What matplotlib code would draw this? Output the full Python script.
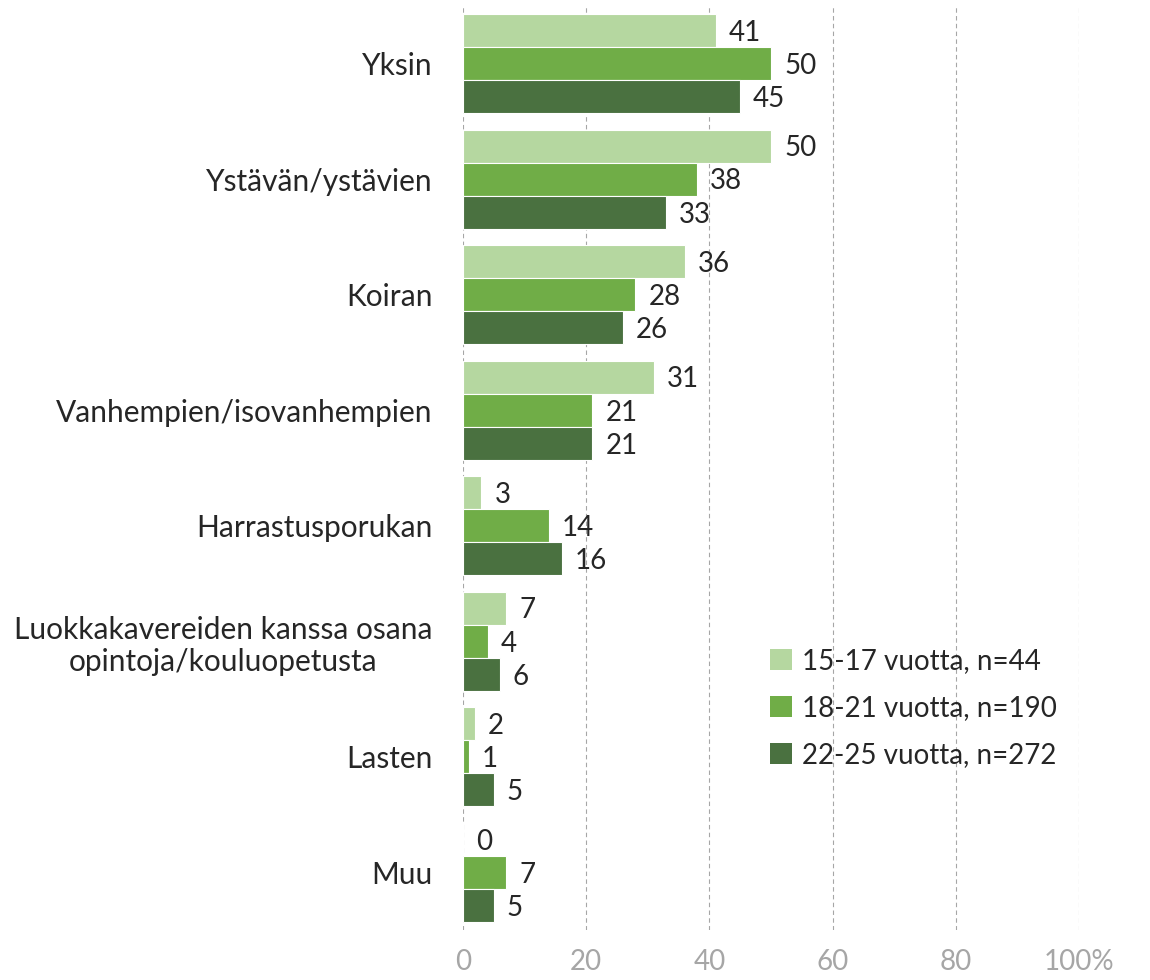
import numpy as np
import matplotlib.pyplot as plt

categories = [
    "Yksin",
    "Ystävän/ystävien",
    "Koiran",
    "Vanhempien/isovanhempien",
    "Harrastusporukan",
    "Luokkakavereiden kanssa osana\nopintoja/kouluopetusta",
    "Lasten",
    "Muu",
]
series_names = ["15-17 vuotta, n=44", "18-21 vuotta, n=190", "22-25 vuotta, n=272"]
age_15_17 = [41, 50, 36, 31, 3, 7, 2, 0]
age_18_21 = [50, 38, 28, 21, 14, 4, 1, 7]
age_22_25 = [45, 33, 26, 21, 16, 6, 5, 5]
colors = ["#b5d7a0", "#70ad47", "#4a7140"]

plt.rcParams["font.family"] = ["Lato", "DejaVu Sans"]
fs = 21.5   # category labels
fs_num = 20  # numbers, ticks, legend

fig = plt.figure(figsize=(11.5, 9.8), dpi=100)
ax = fig.add_axes([0.4026, 0.051, 0.5357, 0.943])

y = np.arange(len(categories))
h = 0.286
for i, (vals, name, col) in enumerate(zip([age_15_17, age_18_21, age_22_25], series_names, colors)):
    pos = y + (i - 1) * h
    ax.barh(pos, vals, height=h, color=col, edgecolor="white", linewidth=0.8, label=name)
    for p, v in zip(pos, vals):
        ax.text(v + 2.1, p + 0.02, str(v), va="center", ha="left", fontsize=fs_num, color="#262626")

ax.set_xlim(0, 100)
ax.set_ylim(len(categories) - 0.5, -0.5)
ax.set_xticks(np.arange(0, 101, 20))
ax.set_xticklabels(["0", "20", "40", "60", "80", "100%"], fontsize=fs_num, color="#a6a6a6")
ax.set_yticks(y)
ax.set_yticklabels(categories, fontsize=fs, color="#262626", multialignment="center")
ax.tick_params(axis="both", length=0)
ax.tick_params(axis="y", pad=22)
ax.tick_params(axis="x", pad=14)
ax.grid(axis="x", color="#a6a6a6", linestyle=(0, (4, 3)), linewidth=0.8)
ax.set_axisbelow(True)
for s in ax.spines.values():
    s.set_visible(False)

handles, labels = ax.get_legend_handles_labels()
leg = ax.legend(handles, labels, loc="upper left", bbox_to_anchor=(0.498, 0.305),
                frameon=False, fontsize=fs_num, handlelength=0.8, handleheight=0.8,
                handletextpad=0.35, labelspacing=0.75, borderpad=0, borderaxespad=0,
                labelcolor="#262626")
for p in leg.get_patches():
    p.set_edgecolor("none")

fig.savefig("out.png", dpi=100)
